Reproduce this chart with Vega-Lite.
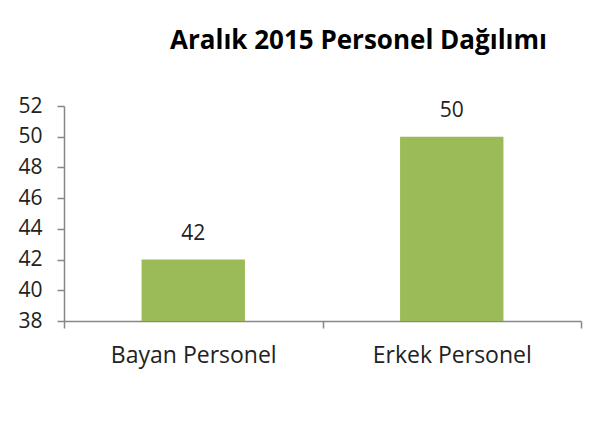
{
  "$schema": "https://vega.github.io/schema/vega-lite/v6.json",
  "autosize": "none",
  "width": 517,
  "height": 215,
  "padding": {"left": 64, "top": 106, "right": 16, "bottom": 125},
  "background": "white",
  "config": {
    "view": {"stroke": null},
    "font": "Open Sans"
  },
  "title": {
    "text": "Aralık 2015 Personel Dağılımı",
    "font": "Open Sans",
    "fontSize": 26,
    "fontWeight": "bold",
    "color": "#000000",
    "anchor": "middle",
    "baseline": "alphabetic",
    "dx": 36,
    "offset": 20
  },
  "data": {
    "values": [
      {"kategori": "Bayan Personel", "sayi": 42},
      {"kategori": "Erkek Personel", "sayi": 50}
    ]
  },
  "encoding": {
    "x": {
      "field": "kategori",
      "type": "nominal",
      "sort": null,
      "scale": {"paddingInner": 0, "paddingOuter": 0},
      "axis": {
        "title": null,
        "labelAngle": 0,
        "labelFont": "Open Sans",
        "labelFontSize": 23,
        "labelColor": "#222222",
        "labelPadding": 16,
        "tickBand": "extent",
        "tickSize": 7,
        "tickColor": "#878787",
        "tickWidth": 1.5,
        "domainColor": "#878787",
        "domainWidth": 1.5
      }
    },
    "y": {
      "field": "sayi",
      "type": "quantitative",
      "scale": {"domain": [38, 52], "zero": false, "nice": false},
      "axis": {
        "title": null,
        "values": [38, 40, 42, 44, 46, 48, 50, 52],
        "grid": false,
        "labelFont": "Open Sans",
        "labelFontSize": 21,
        "labelColor": "#222222",
        "labelPadding": 15,
        "tickSize": 7,
        "tickColor": "#878787",
        "tickWidth": 1.5,
        "domainColor": "#878787",
        "domainWidth": 1.5
      }
    }
  },
  "layer": [
    {"mark": {"type": "bar", "color": "#9BBB59", "width": {"band": 0.4}, "clip": true}},
    {
      "mark": {"type": "text", "baseline": "alphabetic", "dy": -20, "font": "Open Sans", "fontSize": 21, "color": "#222222"},
      "encoding": {"text": {"field": "sayi", "type": "quantitative"}}
    }
  ]
}
